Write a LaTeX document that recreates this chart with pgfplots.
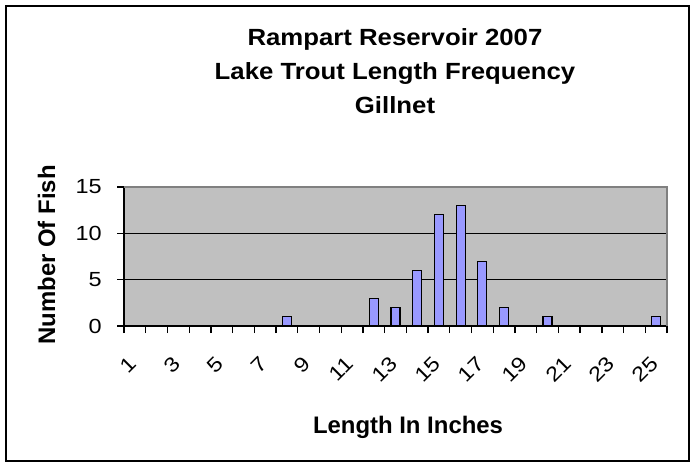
\documentclass[border=0pt]{standalone}
\usepackage{pgfplots}
\pgfplotsset{compat=1.18}
\usepackage{fontspec}
\setmainfont{Liberation Sans}
\newfontfamily\tickfont[FakeStretch=1.15]{Liberation Sans}
\newfontfamily\titlefont[FakeStretch=1.1]{Liberation Sans}
\definecolor{plotgray}{RGB}{192,192,192}
\definecolor{barblue}{RGB}{153,153,255}
\definecolor{bordergray}{RGB}{128,128,128}
\begin{document}
\begin{tikzpicture}[x=1bp,y=1bp]
\useasboundingbox (0,0) rectangle (695,-464);
\draw[black, line width=1.5bp] (6,-6) rectangle (689,-461);
\node[anchor=base, font=\titlefont\bfseries\fontsize{23.5}{28}\selectfont] at (395,-46) {Rampart Reservoir 2007};
\node[anchor=base, font=\titlefont\bfseries\fontsize{23.5}{28}\selectfont] at (395,-80) {Lake Trout Length Frequency};
\node[anchor=base, font=\titlefont\bfseries\fontsize{23.5}{28}\selectfont] at (395,-114) {Gillnet};
\node[anchor=base, font=\bfseries\fontsize{24}{28}\selectfont] at (408,-433) {Length In Inches};
\node[anchor=base, rotate=90, font=\bfseries\fontsize{24}{28}\selectfont] at (55,-255) {Number Of Fish};
\begin{axis}[
  at={(124bp,-326bp)}, anchor=south west,
  scale only axis, width=543bp, height=139bp,
  xmin=0.5, xmax=25.5, ymin=0, ymax=15,
  axis x line*=bottom, axis y line*=left,
  axis line style={black, line width=1.5bp, -},
  axis background/.style={fill=plotgray},
  ytick={0,5,10,15},
  xtick={0.5,1.5,...,25.5},
  xticklabels={1,,3,,5,,7,,9,,11,,13,,15,,17,,19,,21,,23,,25,},
  tick align=outside,
  major tick length=7bp,
  every tick/.style={black, line width=1.3bp},
  ymajorgrids, grid style={black, line width=1.5bp},
  /pgf/number format/assume math mode=true,
  ticklabel style={font=\tickfont\fontsize{20.5}{21}\selectfont},
  yticklabel style={anchor=east, inner sep=0pt, xshift=-15bp},
  xticklabel style={xshift=4bp, yshift=-22bp, rotate=45, anchor=north east, inner sep=0pt},
  clip=false,
]
\addplot[ybar, bar width=9bp, fill=barblue, draw=black, line width=1.2bp] coordinates {
  (8,1) (12,3) (13,2) (14,6) (15,12) (16,13) (17,7) (18,2) (20,1) (25,1)
};
\draw[bordergray, line width=2bp] (rel axis cs:0,1) -- (rel axis cs:1,1) -- (rel axis cs:1,0);
\end{axis}
\end{tikzpicture}
\end{document}
